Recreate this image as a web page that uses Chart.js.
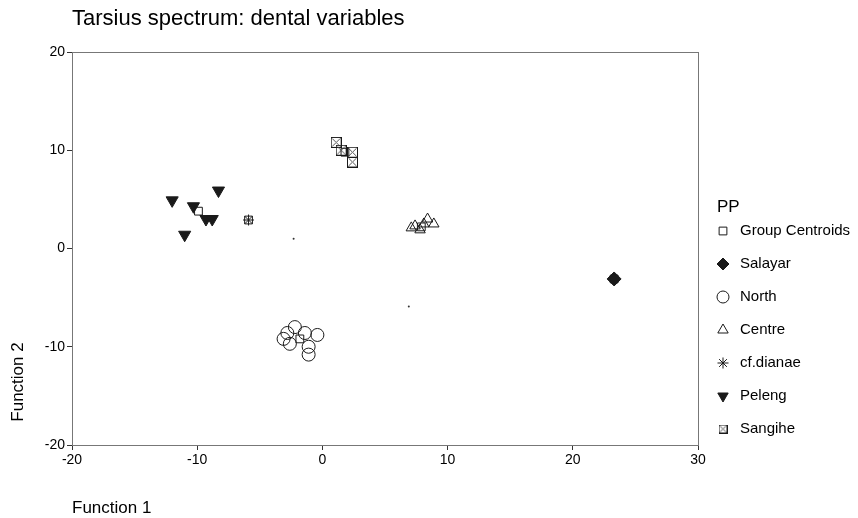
<!DOCTYPE html>
<html>
<head>
<meta charset="utf-8">
<title>Tarsius spectrum: dental variables</title>
<script src="https://cdn.jsdelivr.net/npm/chart.js@4.4.1/dist/chart.umd.min.js"></script>
<style>
  html, body { margin: 0; padding: 0; background: #fff; }
  #wrap { width: 858px; height: 518px; position: relative; }
</style>
</head>
<body>
<div id="wrap"><canvas id="chart"></canvas></div>
<script>
// Discriminant scores, [Function 1, Function 2]
const centroids = [[-9.9, 3.8], [1.8, 9.8], [-1.8, -9.2], [7.9, 2.2], [-5.9, 2.9], [23.3, -3.1]];
const salayar = [[23.3, -3.1]];
const north = [[-2.2, -8.0], [-2.8, -8.6], [-3.1, -9.2], [-1.4, -8.6], [-0.4, -8.8], [-2.6, -9.7], [-1.1, -10.0], [-1.1, -10.8]];
const centre = [[7.1, 2.1], [7.4, 2.3], [7.8, 1.9], [8.1, 2.5], [8.4, 3.0], [8.9, 2.5]];
const dianae = [[-5.9, 2.9]];
const peleng = [[-12.0, 4.9], [-11.0, 1.4], [-10.3, 4.3], [-9.3, 3.0], [-8.8, 3.0], [-8.3, 5.9]];
const sangihe = [[1.1, 10.8], [1.5, 10.0], [2.4, 9.8], [2.4, 8.8]];
const specks = [[-2.3, 1.0], [6.9, -5.9]];

const xTicks = [-20, -10, 0, 10, 20, 30];
const yTicks = [-20, -10, 0, 10, 20];

const legendTitle = 'PP';
const legendNames = ['Group Centroids', 'Salayar', 'North', 'Centre', 'cf.dianae', 'Peleng', 'Sangihe'];

const ink = '#1a1a1a';
const fontFamily = '"Liberation Sans", Arial, Helvetica, sans-serif';

// square with an X inside, used for Sangihe
function boxCross(size) {
    const c = document.createElement('canvas');
    c.width = size;
    c.height = size;
    const g = c.getContext('2d');
    g.strokeStyle = ink;
    g.lineWidth = 1;
    g.strokeRect(0.5, 0.5, size - 1, size - 1);
    g.strokeStyle = '#555';
    g.beginPath();
    g.moveTo(1.5, 1.5); g.lineTo(size - 1.5, size - 1.5);
    g.moveTo(size - 1.5, 1.5); g.lineTo(1.5, size - 1.5);
    g.stroke();
    return c;
}
const boxCrossImg = boxCross(11);
const boxCrossSmall = boxCross(9);

function toPts(arr) {
    return arr.map(p => ({ x: p[0], y: p[1] }));
}

const markers = [
    { pointStyle: 'rect', radius: 5.5, rotation: 0, fill: false },
    { pointStyle: 'rectRot', radius: 7, rotation: 0, fill: true },
    { pointStyle: 'circle', radius: 6.5, rotation: 0, fill: false },
    { pointStyle: 'triangle', radius: 6, rotation: 0, fill: false },
    { pointStyle: 'star', radius: 5.5, rotation: 0, fill: false },
    { pointStyle: 'triangle', radius: 7, rotation: 180, fill: true },
    { pointStyle: boxCrossImg, radius: 5, rotation: 0, fill: false }
];
const groups = [centroids, salayar, north, centre, dianae, peleng, sangihe];

const datasets = groups.map((g, i) => ({
    label: legendNames[i],
    data: toPts(g),
    pointStyle: markers[i].pointStyle,
    pointRadius: markers[i].radius,
    pointRotation: markers[i].rotation,
    pointBorderWidth: 1,
    pointBorderColor: ink,
    pointBackgroundColor: markers[i].fill ? ink : 'rgba(0,0,0,0)',
    showLine: false
}));
datasets.push({
    label: 'specks',
    data: toPts(specks),
    pointStyle: 'circle',
    pointRadius: 1,
    pointBorderWidth: 0,
    pointBackgroundColor: '#333',
    showLine: false
});

// title, axis titles, frame and the PP legend
const decorPlugin = {
    id: 'decor',
    afterDraw(chart) {
        const ctx = chart.ctx;
        const a = chart.chartArea;
        ctx.save();

        ctx.strokeStyle = '#777';
        ctx.lineWidth = 1;
        ctx.strokeRect(Math.round(a.left) + 0.5, Math.round(a.top) + 0.5,
            Math.round(a.right - a.left), Math.round(a.bottom - a.top));

        ctx.fillStyle = '#000';
        ctx.textBaseline = 'middle';
        ctx.textAlign = 'left';
        ctx.font = '22px ' + fontFamily;
        ctx.fillText('Tarsius spectrum: dental variables', 72, 19);

        ctx.font = '17px ' + fontFamily;
        ctx.fillText('Function 1', 72, 508);

        ctx.save();
        ctx.translate(18, 382);
        ctx.rotate(-Math.PI / 2);
        ctx.textAlign = 'center';
        ctx.fillText('Function 2', 0, 0);
        ctx.restore();

        // legend
        ctx.font = '17px ' + fontFamily;
        ctx.fillText(legendTitle, 717, 207);
        ctx.font = '15px ' + fontFamily;
        legendNames.forEach((name, i) => {
            const y = 231 + i * 33;
            const m = markers[i];
            ctx.strokeStyle = ink;
            ctx.fillStyle = m.fill ? ink : 'rgba(0,0,0,0)';
            ctx.lineWidth = 1;
            Chart.helpers.drawPoint(ctx, {
                pointStyle: m.pointStyle === boxCrossImg ? boxCrossSmall : m.pointStyle,
                radius: Math.min(m.radius, 6),
                rotation: m.rotation,
                borderWidth: 1
            }, 723, y);
            ctx.fillStyle = '#000';
            ctx.fillText(name, 740, y);
        });
        ctx.restore();
    }
};

function tickScale(min, max, ticks) {
    return {
        type: 'linear',
        min: min,
        max: max,
        afterBuildTicks(scale) {
            scale.ticks = ticks.map(v => ({ value: v }));
        },
        grid: {
            drawOnChartArea: false,
            drawTicks: true,
            tickLength: 5,
            color: '#333'
        },
        border: { display: true, color: '#444' },
        ticks: {
            color: '#000',
            font: { size: 14, family: fontFamily },
            padding: 2,
            maxRotation: 0
        }
    };
}

const xScale = tickScale(-20, 30, xTicks);
xScale.afterFit = s => { s.height = 73; };
const yScale = tickScale(-20, 20, yTicks);
yScale.afterFit = s => { s.width = 72; };

new Chart(document.getElementById('chart'), {
    type: 'scatter',
    data: { datasets: datasets },
    options: {
        responsive: true,
        maintainAspectRatio: false,
        animation: false,
        layout: { padding: { top: 52, right: 160, left: 0, bottom: 0 } },
        plugins: {
            legend: { display: false },
            title: { display: false },
            tooltip: { enabled: false }
        },
        scales: { x: xScale, y: yScale }
    },
    plugins: [decorPlugin]
});
</script>
</body>
</html>
